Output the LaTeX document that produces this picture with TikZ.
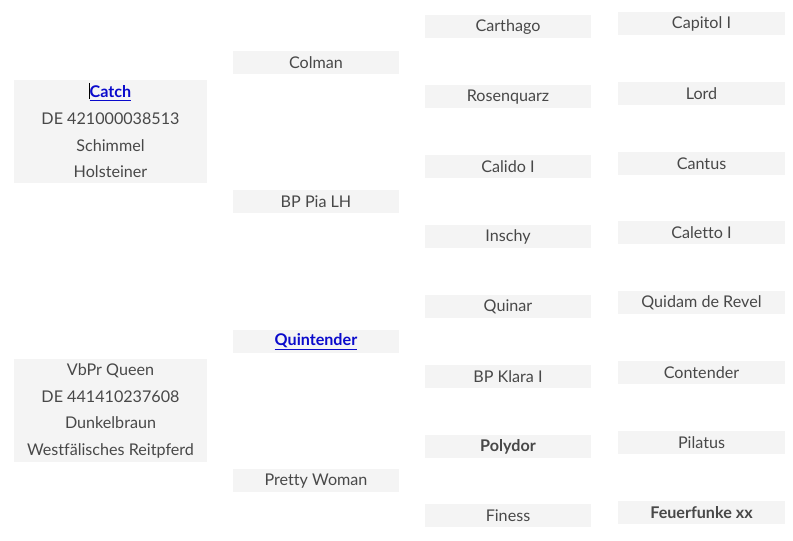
\documentclass[tikz,border=0pt]{standalone}
\usepackage{fontspec}
\setmainfont{Lato}[Ligatures=NoCommon]
\usepackage{tikz}
\usetikzlibrary{positioning}

\definecolor{cellgray}{HTML}{F4F4F4}
\definecolor{namegray}{HTML}{484848}
\definecolor{linkblue}{RGB}{10,10,204}

\tikzset{
  cell/.style={fill=cellgray, text=namegray, inner sep=0pt,
    font={\fontsize{12.1}{20}\selectfont}, minimum height=17.25pt},
  horse/.style={cell, minimum width=144.75pt, minimum height=77.25pt, align=center},
  parent/.style={cell, minimum width=124.5pt},
  grand/.style={cell, minimum width=124.5pt},
  greatgrand/.style={cell, minimum width=125.25pt},
}
\newcommand{\horselink}[1]{\textcolor{linkblue}{\textbf{\underline{#1}}}}

\begin{document}
\begin{tikzpicture}[x=0.75pt, y=-0.75pt]
                \useasboundingbox (0,0) rectangle (793,541);

                % Nodes: sire and dam
                \node at (110.5,132) (catch) [horse] {\horselink{Catch}\\DE 421000038513\\Schimmel\\Holsteiner};
                \node at (110.5,411) (queen) [horse] {VbPr Queen\\DE 441410237608\\Dunkelbraun\\Westfälisches Reitpferd};

                % Parents
                \node at (316,62.5) (colman) [parent] {Colman};
                \node at (316,202) (pia) [parent] {BP Pia LH};
                \node at (316,342) (quintender) [parent] {\horselink{Quintender}};
                \node at (316,481) (pretty) [parent] {Pretty Woman};

                % Grandparents
                \node at (508,27) (carthago) [grand] {Carthago};
                \node at (508,97) (rosenquarz) [grand] {Rosenquarz};
                \node at (508,167) (calido) [grand] {Calido I};
                \node at (508,237) (inschy) [grand] {Inschy};
                \node at (508,307) (quinar) [grand] {Quinar};
                \node at (508,377) (klara) [grand] {BP Klara I};
                \node at (508,447) (polydor) [grand] {\textbf{Polydor}};
                \node at (508,516) (finess) [grand] {Finess};

                % Great-grandparents
                \node at (701.5,23.5) (capitol) [greatgrand] {Capitol I};
                \node at (701.5,93.5) (lord) [greatgrand] {Lord};
                \node at (701.5,163.5) (cantus) [greatgrand] {Cantus};
                \node at (701.5,232.5) (caletto) [greatgrand] {Caletto I};
                \node at (701.5,302.5) (quidam) [greatgrand] {Quidam de Revel};
                \node at (701.5,372.5) (contender) [greatgrand] {Contender};
                \node at (701.5,442.5) (pilatus) [greatgrand] {Pilatus};
                \node at (701.5,512.5) (feuerfunke) [greatgrand] {\textbf{Feuerfunke xx}};

                % text cursor before Catch
                \draw[black, line width=0.6pt] (89,83) -- (89,99);

            \end{tikzpicture}
\end{document}
